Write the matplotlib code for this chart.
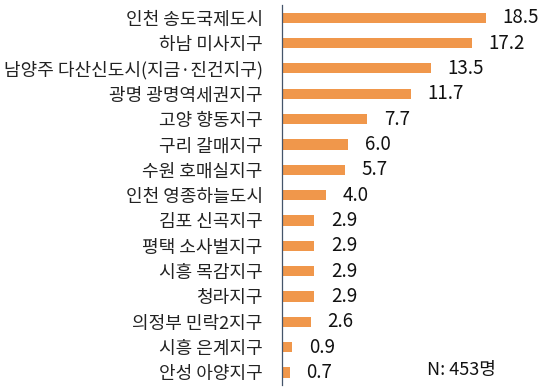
import matplotlib
matplotlib.use("Agg")
import matplotlib.pyplot as plt

plt.rcParams['font.family'] = ['Noto Sans CJK KR', 'DejaVu Sans']

regions = ["인천 송도국제도시", "하남 미사지구", "남양주 다산신도시(지금·진건지구)",
           "광명 광명역세권지구", "고양 향동지구", "구리 갈매지구", "수원 호매실지구",
           "인천 영종하늘도시", "김포 신곡지구", "평택 소사벌지구", "시흥 목감지구",
           "청라지구", "의정부 민락2지구", "시흥 은계지구", "안성 아양지구"]
shares = [18.5, 17.2, 13.5, 11.7, 7.7, 6.0, 5.7, 4.0, 2.9, 2.9, 2.9, 2.9, 2.6, 0.9, 0.7]
note = "N: 453명"

bar_color = '#F0974B'

fig = plt.figure(figsize=(5.5, 3.91), dpi=100)
ax = fig.add_axes([0.513, 0.015, 0.487, 0.972])

pos = list(range(len(regions)))
ax.barh(pos, shares, height=0.4, color=bar_color)
ax.set_ylim(14.5, -0.5)
ax.set_xlim(0, 24.3)

for y, v in zip(pos, shares):
    ax.annotate(f"{v:.1f}", (v, y), xytext=(12, 0), textcoords='offset points',
                va='center', ha='left', fontsize=13.5, color='#111111')

ax.set_yticks(pos)
ax.set_yticklabels(regions, fontsize=13, color='#222222')
ax.tick_params(axis='y', length=0, pad=14)
ax.set_xticks([])

for name in ['top', 'right', 'bottom']:
    ax.spines[name].set_visible(False)
ax.spines['left'].set_color('#44546A')
ax.spines['left'].set_linewidth(0.9)

ax.text(0.54, 0.04, note, transform=ax.transAxes, fontsize=13,
        ha='left', va='center', color='#111111')

fig.savefig('out.png', dpi=100)
